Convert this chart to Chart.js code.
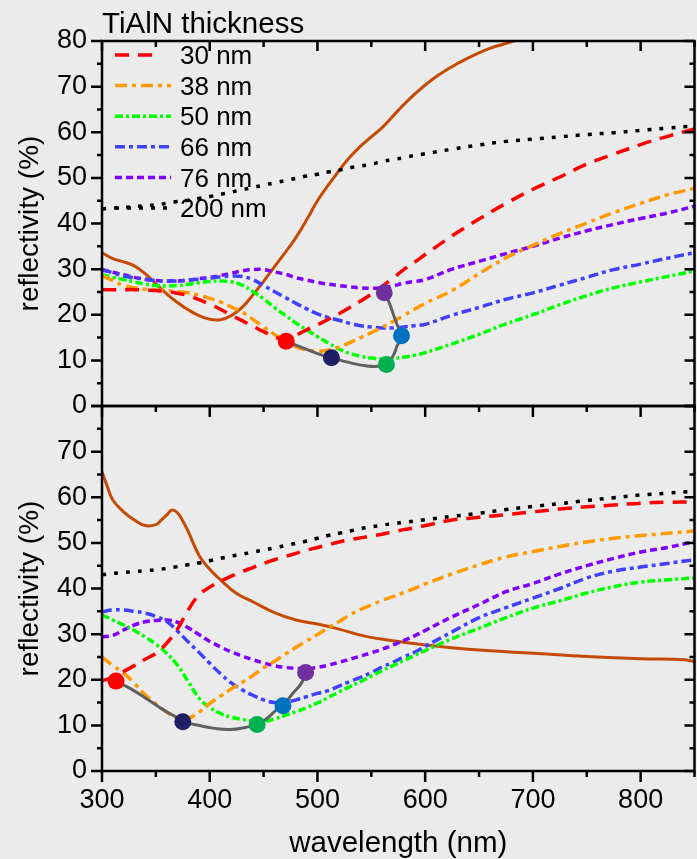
<!DOCTYPE html>
<html>
<head>
<meta charset="utf-8">
<script src="https://cdn.jsdelivr.net/npm/chart.js@4.4.1/dist/chart.umd.min.js"></script>
<style>
  html, body { margin: 0; padding: 0; background: #ebebeb; overflow: hidden; }
  #wrap { width: 697px; height: 859px; overflow: hidden; }
</style>
</head>
<body>
<div id="wrap"><canvas id="chart" width="703" height="859"></canvas></div>
<script>
// wavelength grid (nm) shared by the thickness curves
const WL = [300,310,320,330,340,350,360,370,380,390,400,410,420,430,440,450,460,470,480,490,500,
            510,520,530,540,550,560,570,580,590,600,625,650,675,700,725,750,775,800,825,850];

const LABELS = ['30 nm', '38 nm', '50 nm', '66 nm', '76 nm', '200 nm'];

// top panel, reflectivity (%)
const r30Top  = [25.5,25.5,25.5,25.5,25.4,25.3,25.1,24.7,24.2,23.3,22.3,21.2,19.9,18.7,17.5,16.3,15.2,14.5,15.5,16.7,17.8,19.0,20.2,21.6,23.0,24.5,26.2,28.0,29.9,31.5,33.2,37.3,41.0,44.4,47.5,50.2,53.0,55.2,57.3,59.1,60.7];
const r38Top  = [28.5,27.5,26.4,25.9,25.6,25.4,25.3,25.1,24.8,24.3,23.6,22.8,21.7,20.6,19.0,17.3,15.7,14.3,13.0,12.3,12.0,12.2,12.9,13.9,15.0,16.1,17.2,18.5,19.8,21.2,22.5,25.3,29.0,32.5,35.2,37.8,40.1,42.4,44.4,46.3,47.7];
const r50Top  = [28.8,28.2,27.7,27.2,26.7,26.4,26.3,26.4,26.7,27.0,27.3,27.4,27.2,26.5,25.1,23.5,21.6,19.9,18.2,16.7,15.2,13.8,12.5,11.5,10.9,10.5,10.3,10.4,10.7,11.1,11.7,13.6,15.7,18.0,20.0,22.2,24.2,25.9,27.2,28.4,29.6];
const r66Top  = [29.9,29.2,28.5,28.1,27.8,27.5,27.4,27.4,27.6,27.8,28.0,28.3,28.5,28.4,27.7,26.4,25.1,23.8,22.5,21.3,20.2,19.4,18.8,18.1,17.6,17.3,17.1,17.1,17.3,17.6,17.9,19.9,21.6,23.4,24.8,26.5,28.2,29.9,31.1,32.4,33.6];
const r76Top  = [29.9,29.3,28.8,28.2,27.8,27.5,27.4,27.4,27.6,27.9,28.2,28.6,29.1,29.6,29.9,29.9,29.4,28.9,28.1,27.6,27.1,26.7,26.4,26.1,25.9,25.8,25.9,26.3,26.9,27.3,27.7,30.0,31.7,33.4,35.0,36.8,38.4,39.8,41.1,42.3,43.8];
const r200Top = [43.2,43.4,43.5,43.7,43.9,44.1,44.4,44.8,45.1,45.5,45.9,46.4,46.9,47.4,47.9,48.4,48.9,49.4,49.9,50.4,50.8,51.3,51.7,52.2,52.6,53.0,53.6,54.0,54.4,54.9,55.3,56.3,57.2,58.0,58.5,59.0,59.5,59.9,60.4,60.9,61.4];

// bottom panel, reflectivity (%)
const r30Bot  = [19.8,20.5,21.8,23.1,24.5,25.8,28.0,31.1,35.3,38.6,40.3,41.6,42.7,43.7,44.6,45.5,46.3,47.0,47.7,48.4,49.0,49.6,50.2,50.7,51.1,51.5,51.9,52.4,52.9,53.3,53.8,55.0,55.6,56.2,56.8,57.4,57.9,58.3,58.7,58.9,59.0];
const r38Bot  = [25.0,23.1,21.5,19.2,16.7,14.7,12.9,11.6,11.5,12.9,14.8,16.4,18.0,19.4,20.9,22.6,24.0,25.6,27.1,28.5,29.9,31.4,32.7,34.2,35.4,36.4,37.4,38.2,39.1,40.0,41.0,43.2,45.2,46.9,48.1,49.2,50.2,51.0,51.6,52.1,52.6];
const r50Bot  = [34.2,33.1,32.0,30.8,29.4,27.8,25.8,23.2,19.6,16.0,13.9,12.6,11.8,11.3,11.0,10.9,11.4,12.2,13.0,13.9,14.9,16.1,17.3,18.5,19.6,20.8,22.0,23.1,24.2,25.3,26.4,29.0,31.3,33.6,35.7,37.3,39.0,40.4,41.4,41.9,42.3];
const r66Bot  = [34.9,35.3,35.3,35.0,34.6,33.9,32.8,30.7,28.3,26.0,23.6,21.3,19.3,17.8,16.6,15.6,15.0,15.0,15.6,16.3,17.0,17.6,18.6,19.6,20.5,21.6,22.8,23.8,25.0,26.0,27.3,30.5,33.6,35.8,37.9,40.0,42.3,43.8,44.7,45.5,46.3];
const r76Bot  = [29.4,29.7,30.9,32.0,32.7,33.0,33.1,32.6,31.4,29.9,28.4,27.2,26.1,25.2,24.4,23.7,23.1,22.7,22.5,22.4,22.7,23.2,23.8,24.5,25.2,25.9,26.7,27.6,28.6,29.6,30.8,33.8,36.5,39.3,41.1,43.2,45.0,46.6,48.0,49.0,50.3];
const r200Bot = [43.0,43.3,43.5,43.7,43.9,44.1,44.4,44.8,45.2,45.6,46.1,46.6,47.1,47.5,48.0,48.4,48.9,49.4,49.9,50.4,51.0,51.6,52.1,52.6,53.1,53.5,53.9,54.2,54.5,54.8,55.1,55.8,56.5,57.3,58.0,58.6,59.3,59.9,60.5,60.9,61.3];

// unlabelled solid curve in each panel
const wlSubTop = [300,310,320,330,340,350,360,370,380,390,400,410,420,430,440,450,460,470,480,490,500,515,530,545,560,575,590,605,620,640,660,680,700];
const subTop   = [33.6,32.3,31.6,30.7,29.0,26.8,24.6,22.7,21.1,19.8,19.0,18.9,19.8,21.6,24.3,27.3,30.5,33.6,36.9,40.8,45.0,50.0,54.5,58.0,61.0,64.8,68.3,71.3,73.7,76.3,78.4,79.8,81.5];
const wlSubBot = [300,305,310,320,330,340,350,355,360,365,370,375,380,390,400,410,425,440,460,480,500,520,545,575,605,650,700,750,800,840,850];
const subBot   = [65.6,62.3,59.4,56.8,55.0,53.8,54.0,55.0,56.1,57.2,56.6,54.8,52.5,47.3,44.2,41.9,38.9,37.1,34.7,33.1,32.2,31.1,29.5,28.4,27.5,26.5,25.8,25.1,24.6,24.4,24.0];

// minima markers and the grey path through them
const mkTopX = [471, 513, 564, 578, 562];
const mkTopY = [14.2, 10.6, 9.1, 15.4, 24.8];
const mkBotX = [313, 375, 444, 468, 489];
const mkBotY = [19.7, 10.8, 10.2, 14.3, 21.6];
const pathTopX = [471, 490, 502, 513, 530, 545, 557, 564, 570, 574, 578, 574, 570, 566, 562];
const pathTopY = [14.2, 12.4, 11.3, 10.6, 9.5, 8.8, 8.7, 9.1, 10.9, 13.2, 15.4, 17.8, 20.4, 23.0, 24.8];
const pathBotX = [313, 326, 341, 357, 369, 375, 388, 403, 419, 434, 444, 453, 462, 468, 477, 485, 489];
const pathBotY = [19.7, 18.1, 15.9, 13.4, 11.8, 10.8, 10.1, 9.4, 9.1, 9.6, 10.2, 11.5, 13.4, 14.3, 17.0, 19.2, 21.6];

// styles
const FONT = "'Liberation Sans', Arial, sans-serif";
const COLORS = ['#ff0000', '#ff9a00', '#00ff00', '#4040ff', '#8000ff', '#000000'];
const DASHES = [[14, 9], [12, 5, 4, 5], [8, 3, 3, 3], [10, 4, 4, 4], [7, 4], [4, 8]];
const MK_COLORS = ['#ff0000', '#1f1f66', '#00b050', '#0070c0', '#7030a0'];
const SUB_COLOR = '#c44b05';

function pts(xs, ys) {
    return xs.map((x, i) => ({x: x, y: ys[i]}));
}

const topSeries = [r30Top, r38Top, r50Top, r66Top, r76Top, r200Top];
const botSeries = [r30Bot, r38Bot, r50Bot, r66Bot, r76Bot, r200Bot];

let datasets = [];
// markers first so they sit on top
datasets.push({data: pts(mkTopX, mkTopY), yAxisID: 'yTop', showLine: false,
    pointRadius: 8.5, pointBackgroundColor: MK_COLORS, pointBorderWidth: 0});
datasets.push({data: pts(mkBotX, mkBotY), yAxisID: 'yBot', showLine: false,
    pointRadius: 8.5, pointBackgroundColor: MK_COLORS, pointBorderWidth: 0});
datasets.push({data: pts(pathTopX, pathTopY), yAxisID: 'yTop', borderColor: '#606060',
    borderWidth: 3, pointRadius: 0, tension: 0.5});
datasets.push({data: pts(pathBotX, pathBotY), yAxisID: 'yBot', borderColor: '#606060',
    borderWidth: 3, pointRadius: 0, tension: 0.5});
for (let i = 0; i < 6; i++) {
    datasets.push({label: LABELS[i], data: pts(WL, topSeries[i]), yAxisID: 'yTop',
        borderColor: COLORS[i], borderDash: DASHES[i], borderWidth: 3.5, pointRadius: 0});
    datasets.push({data: pts(WL, botSeries[i]), yAxisID: 'yBot',
        borderColor: COLORS[i], borderDash: DASHES[i], borderWidth: 3.5, pointRadius: 0});
}
datasets.push({data: pts(wlSubTop, subTop), yAxisID: 'yTop', borderColor: SUB_COLOR, borderWidth: 3, pointRadius: 0});
datasets.push({data: pts(wlSubBot, subBot), yAxisID: 'yBot', borderColor: SUB_COLOR, borderWidth: 3, pointRadius: 0});

// frames + major/minor tick marks, drawn from the scales
const frameTicks = {
    id: 'frameTicks',
    afterDraw(chart) {
        const ctx = chart.ctx;
        const xs = chart.scales.x;
        const a = chart.chartArea;
        ctx.save();
        ctx.setLineDash([]);
        ctx.strokeStyle = '#000';
        ctx.lineWidth = 2.5;
        ['yTop', 'yBot'].forEach(id => {
            const ys = chart.scales[id];
            ctx.strokeRect(a.left, ys.top, a.right - a.left, ys.bottom - ys.top);
            ctx.beginPath();
            for (let v = 0; v <= 80; v += 5) {
                const py = ys.getPixelForValue(v);
                const major = v % 10 === 0;
                ctx.moveTo(a.left - (major ? 11 : 5), py);
                ctx.lineTo(a.left, py);
                ctx.moveTo(a.right - (major ? 10 : 5), py);
                ctx.lineTo(a.right, py);
            }
            for (let w = 300; w <= 850; w += 50) {
                const px = xs.getPixelForValue(w);
                const major = w % 100 === 0;
                if (id === 'yTop') {
                    ctx.moveTo(px, ys.top);
                    ctx.lineTo(px, ys.top + (major ? 10 : 6));
                }
                ctx.moveTo(px, ys.bottom);
                ctx.lineTo(px, ys.bottom + (major ? 11 : 6));
            }
            ctx.stroke();
        });
        ctx.restore();
    }
};

// legend block inside the top panel
const legendBlock = {
    id: 'legendBlock',
    afterDraw(chart) {
        const ctx = chart.ctx;
        const left = chart.chartArea.left;
        ctx.save();
        ctx.fillStyle = '#000';
        ctx.textBaseline = 'alphabetic';
        ctx.font = '29.5px ' + FONT;
        ctx.fillText('TiAlN thickness', left, 33);
        ctx.font = '26px ' + FONT;
        ctx.textBaseline = 'middle';
        for (let i = 0; i < LABELS.length; i++) {
            const y = 55 + i * 30.6;
            ctx.strokeStyle = COLORS[i];
            ctx.lineWidth = 3.5;
            ctx.lineCap = 'butt';
            ctx.setLineDash(DASHES[i]);
            ctx.beginPath();
            ctx.moveTo(left + 13, y);
            ctx.lineTo(left + (i === 0 ? 50 : 69), y);
            ctx.stroke();
            ctx.setLineDash([]);
            ctx.fillText(LABELS[i], left + 78, y + 2);
        }
        ctx.restore();
    }
};

function yAxis(cb) {
    return {
        type: 'linear', position: 'left', stack: 'panels', stackWeight: 1,
        min: 0, max: 80,
        grid: {display: false, drawTicks: false},
        border: {display: false},
        ticks: {stepSize: 10, autoSkip: false, padding: 15, color: '#000',
            font: {family: FONT, size: 27}, callback: cb},
        title: {display: true, text: 'reflectivity (%)', color: '#000',
            font: {family: FONT, size: 28}, padding: {top: 13, bottom: 0}},
        afterFit: s => { s.width = 102; s.paddingTop = 0; s.paddingBottom = 0; }
    };
}

new Chart(document.getElementById('chart'), {
    type: 'line',
    data: {datasets: datasets},
    options: {
        responsive: false,
        animation: false,
        devicePixelRatio: 1,
        layout: {padding: {top: 41, right: 0, left: 0, bottom: 0}},
        plugins: {legend: {display: false}, tooltip: {enabled: false}},
        elements: {line: {tension: 0.4, borderCapStyle: 'butt'}},
        scales: {
            x: {
                type: 'linear', position: 'bottom', min: 300, max: 850,
                grid: {display: false, drawTicks: false},
                border: {display: false},
                ticks: {stepSize: 100, includeBounds: false, autoSkip: false, padding: 13, maxRotation: 0,
                    color: '#000', font: {family: FONT, size: 27}},
                title: {display: true, text: 'wavelength (nm)', color: '#000',
                    font: {family: FONT, size: 29.5}, padding: {top: 0, bottom: -3}},
                afterFit: s => { s.height = 88; s.paddingLeft = 0; s.paddingRight = 0; }
            },
            // the stack is laid out bottom-up, so the lower panel comes first
            yBot: yAxis(v => (v === 80 ? '' : v)),
            yTop: yAxis(v => v)
        }
    },
    plugins: [frameTicks, legendBlock]
});
</script>
</body>
</html>
